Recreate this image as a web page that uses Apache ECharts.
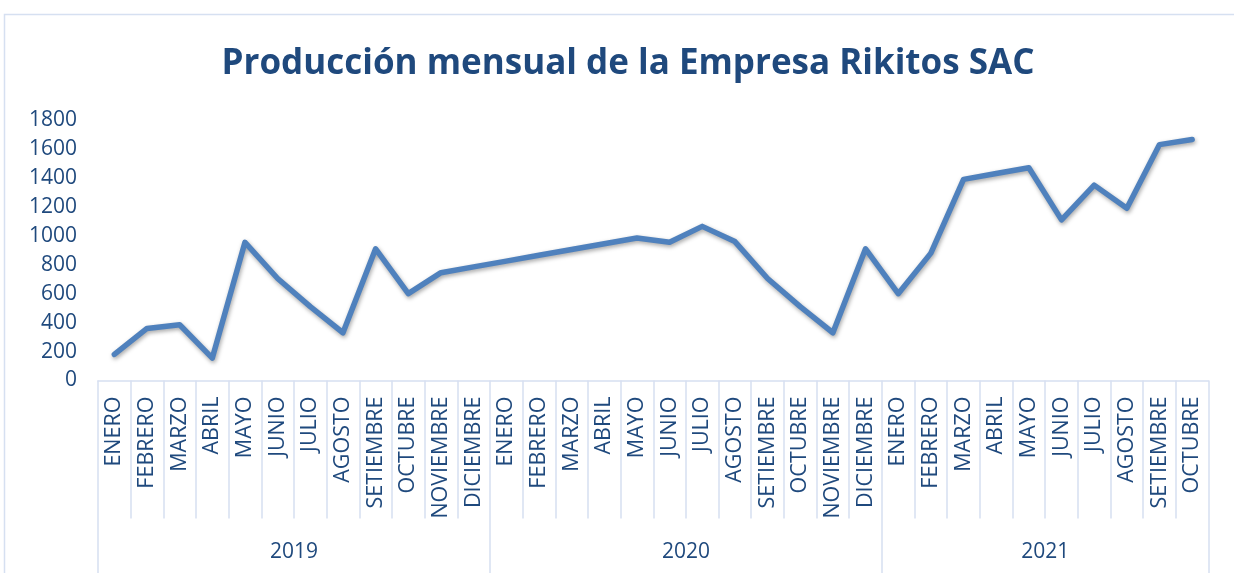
<!DOCTYPE html>
<html>
<head>
<meta charset="utf-8">
<script src="https://cdn.jsdelivr.net/npm/echarts@6/dist/echarts.min.js"></script>
<style>
  html, body { margin: 0; padding: 0; background: #ffffff; }
  #chart { width: 1234px; height: 573px; }
</style>
</head>
<body>
<div id="chart"></div>
<script>
// Monthly production of Rikitos SAC, Jan 2019 – Oct 2021
const chartTitle = 'Producción mensual de la Empresa Rikitos SAC';

const years = ['2019', '2020', '2021'];

const months2019 = ['ENERO', 'FEBRERO', 'MARZO', 'ABRIL', 'MAYO', 'JUNIO', 'JULIO', 'AGOSTO', 'SETIEMBRE', 'OCTUBRE', 'NOVIEMBRE', 'DICIEMBRE'];
const months2020 = ['ENERO', 'FEBRERO', 'MARZO', 'ABRIL', 'MAYO', 'JUNIO', 'JULIO', 'AGOSTO', 'SETIEMBRE', 'OCTUBRE', 'NOVIEMBRE', 'DICIEMBRE'];
const months2021 = ['ENERO', 'FEBRERO', 'MARZO', 'ABRIL', 'MAYO', 'JUNIO', 'JULIO', 'AGOSTO', 'SETIEMBRE', 'OCTUBRE'];

const prod2019 = [180, 360, 385, 155, 955, 705, 510, 330, 910, 600, 745, 785];
const prod2020 = [825, 865, 905, 945, 985, 955, 1065, 960, 705, 510, 330, 910];
const prod2021 = [600, 880, 1390, 1430, 1470, 1110, 1350, 1190, 1630, 1665];

const yMin = 0;
const yMax = 1800;
const yStep = 200;

// Flatten months/values and work out where each year group starts, ends and is centred
const monthGroups = [months2019, months2020, months2021];
const categories = [].concat(...monthGroups);
const production = [].concat(prod2019, prod2020, prod2021);

const groupEdges = [0];
monthGroups.forEach(g => groupEdges.push(groupEdges[groupEdges.length - 1] + g.length));
const groupCentres = years.map((_, i) => (groupEdges[i] + groupEdges[i + 1]) / 2);

const textBlue = '#1f497d';
const frameBlue = '#d6e0f1';
const baseFont = 'Open Sans';

const chart = echarts.init(document.getElementById('chart'), null, { renderer: 'canvas' });

chart.setOption({
  backgroundColor: '#ffffff',
  animation: false,
  graphic: [{
    type: 'rect',
    silent: true,
    z: -10,
    shape: { x: 4.5, y: 14.5, width: 1300, height: 700 },
    style: { fill: 'none', stroke: frameBlue, lineWidth: 1.5 }
  }],
  title: {
    text: chartTitle,
    left: 623,
    textAlign: 'center',
    top: 42,
    textStyle: {
      fontFamily: baseFont,
      fontWeight: 'bold',
      fontSize: 35,
      color: textBlue
    }
  },
  grid: {
    left: 98,
    right: 25.5,
    top: 120,
    bottom: 192.5,
    containLabel: false
  },
  xAxis: [
    {
      type: 'category',
      data: categories,
      boundaryGap: true,
      position: 'bottom',
      axisLine: { show: true, onZero: false, lineStyle: { color: frameBlue, width: 1.5 } },
      axisTick: { show: true, interval: 0, length: 138, lineStyle: { color: frameBlue, width: 1.5 } },
      axisLabel: {
        interval: 0,
        rotate: 90,
        margin: 16,
        fontFamily: baseFont,
        fontSize: 21.5,
        color: textBlue
      },
      splitLine: { show: false }
    },
    {
      type: 'value',
      min: groupEdges[0],
      max: groupEdges[groupEdges.length - 1],
      position: 'bottom',
      axisLine: { show: false, onZero: false },
      axisTick: {
        show: true,
        customValues: groupEdges,
        length: 220,
        lineStyle: { color: frameBlue, width: 1.5 }
      },
      axisLabel: {
        customValues: groupCentres,
        formatter: v => years[groupCentres.indexOf(v)] || '',
        margin: 161,
        fontFamily: baseFont,
        fontSize: 21,
        color: textBlue
      },
      splitLine: { show: false }
    }
  ],
  yAxis: {
    type: 'value',
    min: yMin,
    max: yMax,
    interval: yStep,
    axisLine: { show: false },
    axisTick: { show: false },
    splitLine: { show: false },
    axisLabel: {
      margin: 21,
      formatter: v => String(v),
      fontFamily: baseFont,
      fontSize: 21,
      color: textBlue
    }
  },
  series: [{
    type: 'line',
    name: 'Producción',
    xAxisIndex: 0,
    data: production,
    symbol: 'none',
    smooth: false,
    lineStyle: {
      color: '#4f81bd',
      width: 5.5,
      cap: 'round',
      join: 'round',
      shadowColor: 'rgba(0, 0, 0, 0.35)',
      shadowBlur: 4,
      shadowOffsetX: 1,
      shadowOffsetY: 2
    }
  }]
});
</script>
</body>
</html>
